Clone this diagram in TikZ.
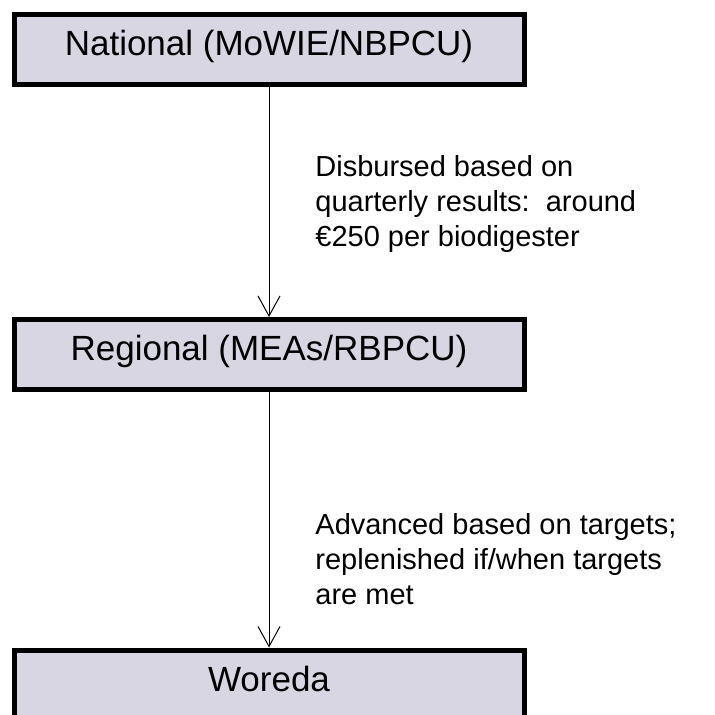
\documentclass[tikz,border=0pt]{standalone}
\usepackage{fontspec}
\setmainfont{Liberation Sans}
\usetikzlibrary{positioning,arrows.meta}
\definecolor{boxfill}{RGB}{217,214,227}
\tikzset{
  level/.style={draw=black, line width=2.5pt, fill=boxfill, minimum width=255pt, minimum height=35pt,
    inner sep=0pt, text height=0.8em, text depth=0.2em, font=\fontsize{17.5}{20}\selectfont},
  flow/.style={-{Straight Barb[length=10pt,width=11pt]}, line width=0.5pt},
  note/.style={anchor=north west, align=left, inner sep=0pt, font=\fontsize{14.5}{17.5}\selectfont}
}

\begin{document}
\begin{tikzpicture}[x=0.5pt,y=-0.5pt]
    \clip (0,0) rectangle (715,715);
    \fill[white] (0,0) rectangle (715,715);

    % Levels
    \node[level] (nat) at (269,50) {National (MoWIE/NBPCU)};
    \node[level] (reg) at (269,354.5) {Regional (MEAs/RBPCU)};
    \node[level] (wor) at (269,685) {Woreda};

    % Fund flows
    \draw[flow] (nat) -- (reg);
    \draw[flow] (reg) -- (wor);

    % Disbursement rules
    \node[note] (n1) at (315,155) {Disbursed based on\\quarterly results:\ \ around\\€250 per biodigester};
    \node[note] (n2) at (315,513) {Advanced based on targets;\\replenished if/when targets\\are met};
\end{tikzpicture}
\end{document}
